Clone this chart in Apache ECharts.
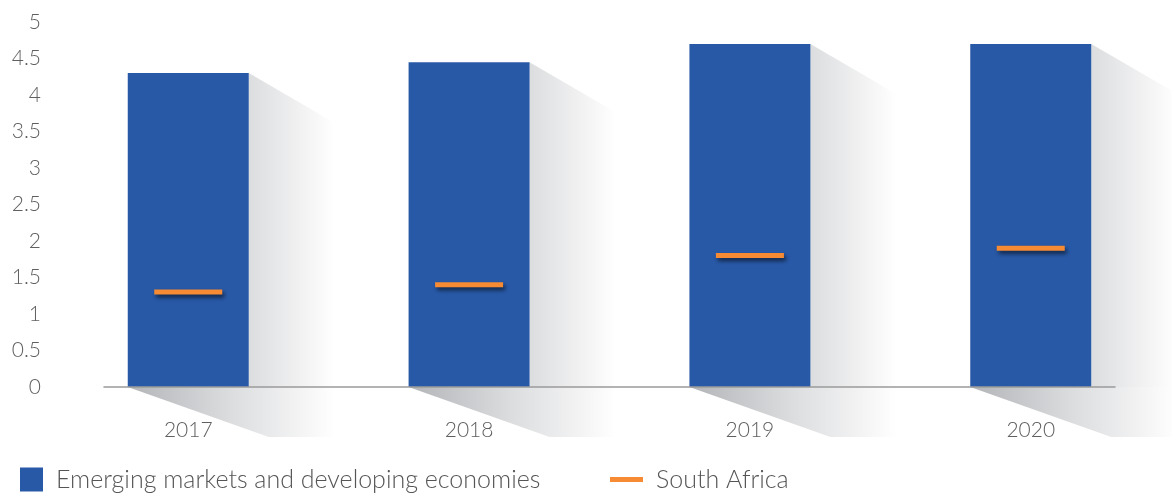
<!DOCTYPE html>
<html>
<head>
<meta charset="utf-8">
<script src="https://cdn.jsdelivr.net/npm/echarts@6/dist/echarts.min.js"></script>
<style>html,body{margin:0;padding:0;background:#fff;}#c{width:1172px;height:494px;}</style>
</head>
<body>
<div id="c"></div>
<script>
const years = ['2017', '2018', '2019', '2020'];
const emerging = [4.3, 4.45, 4.7, 4.7];
const southAfrica = [1.3, 1.4, 1.8, 1.9];
const yTicks = [0, 0.5, 1, 1.5, 2, 2.5, 3, 3.5, 4, 4.5, 5];

const FONT = 'Lato';
const chart = echarts.init(document.getElementById('c'), null, {renderer: 'canvas'});

const barData = emerging.map((v, i) => [i, v]);
const saData = southAfrica.map((v, i) => [i, v]);

function shadowItem(params, api) {
  const i = api.value(0), v = api.value(1);
  const top = api.coord([i, v]);
  const base = api.coord([i, 0]);
  const hw = 60.5;
  const L = top[0] - hw, R = top[0] + hw;
  const W = 86;
  return {
    type: 'group',
    children: [
      {
        type: 'polygon',
        shape: {points: [[R, top[1]], [R + W, top[1] + 50], [R + W, base[1]], [R, base[1]]]},
        style: {fill: {type: 'linear', x: 0, y: 0, x2: 1, y2: 0, colorStops: [
          {offset: 0, color: '#dcdddf'}, {offset: 1, color: 'rgba(255,255,255,1)'}]}}
      },
      {
        type: 'polygon',
        shape: {points: [[L, base[1]], [L + 141, base[1] + 50], [R + W, base[1] + 50], [R + W, base[1]]]},
        style: {fill: {type: 'linear', x: 0, y: 0, x2: 1, y2: 0, colorStops: [
          {offset: 0, color: '#b3b4b7'}, {offset: 0.5, color: '#dcdddf'}, {offset: 1, color: 'rgba(255,255,255,1)'}]}}
      }
    ]
  };
}

chart.setOption({
  animation: false,
  backgroundColor: '#ffffff',
  grid: {left: 104, right: 57, top: 22, bottom: 107},
  xAxis: {
    type: 'value',
    min: -0.3,
    max: 3.3,
    z: 10,
    axisLine: {show: true, lineStyle: {color: '#9a9a9a', width: 1.5}},
    axisTick: {show: false},
    splitLine: {show: false},
    axisLabel: {
      customValues: [0, 1, 2, 3],
      formatter: v => years[Math.round(v)] || '',
      fontFamily: FONT, fontWeight: 300, fontSize: 21, color: '#5f5f5f', margin: 33
    }
  },
  yAxis: {
    type: 'value',
    min: 0, max: 5, interval: 0.5,
    axisLine: {show: false},
    axisTick: {show: false},
    splitLine: {show: false},
    axisLabel: {
      customValues: yTicks,
      fontFamily: FONT, fontWeight: 300, fontSize: 21, color: '#5f5f5f', margin: 63
    }
  },
  legend: [
    {
      data: [{name: 'Emerging markets and developing economies', icon: 'rect'}],
      left: 20, top: 467, padding: 0,
      itemWidth: 23, itemHeight: 24,
      selectedMode: false,
      textStyle: {fontFamily: FONT, fontWeight: 300, fontSize: 25, lineHeight: 24, color: '#555', padding: [0, 0, 0, 8]}
    },
    {
      data: [{name: 'South Africa', icon: 'rect'}],
      left: 610, top: 467, padding: 0,
      itemWidth: 33, itemHeight: 5,
      selectedMode: false,
      textStyle: {fontFamily: FONT, fontWeight: 300, fontSize: 25, lineHeight: 24, color: '#555', padding: [0, 0, 0, 8]}
    }
  ],
  series: [
    {
      type: 'custom',
      name: 'shadow',
      data: barData,
      renderItem: shadowItem,
      z: 1,
      silent: true,
      clip: false
    },
    {
      type: 'bar',
      name: 'Emerging markets and developing economies',
      data: barData,
      barWidth: 121,
      z: 3,
      itemStyle: {color: '#2859a7'},
      emphasis: {disabled: true}
    },
    {
      type: 'scatter',
      name: 'South Africa',
      data: saData,
      symbol: 'rect',
      symbolSize: [68, 5],
      z: 4,
      itemStyle: {color: '#f68b33', shadowBlur: 4, shadowColor: 'rgba(0,0,0,0.6)', shadowOffsetX: 2, shadowOffsetY: 3, opacity: 1},
      emphasis: {disabled: true}
    }
  ]
});
</script>
</body>
</html>
